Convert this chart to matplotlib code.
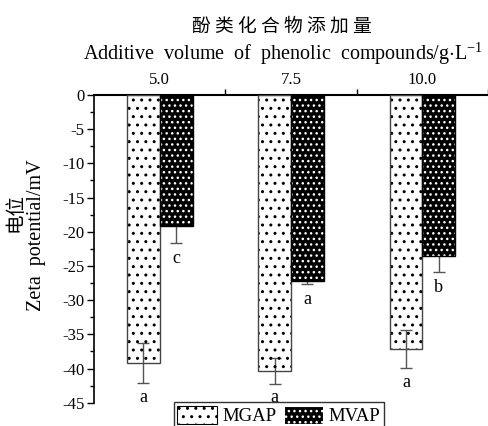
import matplotlib
matplotlib.use("Agg")
import matplotlib.pyplot as plt
import numpy as np
from matplotlib.patches import Patch

categories = ["5.0", "7.5", "10.0"]
mgap = [-39.2, -40.3, -37.1]
mgap_err = [2.9, 1.9, 2.8]
mvap = [-19.1, -27.2, -23.5]
mvap_err = [2.5, 0.4, 2.4]
mgap_letters = ["a", "a", "a"]
mvap_letters = ["c", "a", "b"]

plt.rcParams['font.family'] = ['Liberation Serif', 'Noto Sans CJK SC']
plt.rcParams['hatch.linewidth'] = 1.0
plt.rcParams['axes.unicode_minus'] = False
plt.rcParams['mathtext.fontset'] = 'custom'
plt.rcParams['mathtext.rm'] = 'Liberation Serif'

W, H = 488, 426
fig = plt.figure(figsize=(W/100, H/100), dpi=100)
ax = fig.add_axes([94/W, 1-402.7/H, (488-94)/W, (402.7-95)/H])

x = np.arange(len(categories))
bw = 0.25

# error bars (behind)
ax.errorbar(x - bw/2, mgap, yerr=mgap_err, fmt='none', ecolor='#555555',
            elinewidth=1, capsize=4, capthick=1, zorder=1)
ax.errorbar(x + bw/2, mvap, yerr=mvap_err, fmt='none', ecolor='#555555',
            elinewidth=1, capsize=4, capthick=1, zorder=1)

# MGAP: white with black dots
ax.bar(x - bw/2, mgap, bw, facecolor='none', edgecolor='black', hatch='..',
       linewidth=0, zorder=2)
ax.bar(x - bw/2, mgap, bw, facecolor='none', edgecolor='#444444',
       linewidth=1.0, zorder=3)
# MVAP: black with white dots
ax.bar(x + bw/2, mvap, bw, facecolor='black', edgecolor='white', hatch='...',
       linewidth=0, zorder=2)
ax.bar(x + bw/2, mvap, bw, facecolor='none', edgecolor='black',
       linewidth=1.0, zorder=3)

for xi, v, e, t in zip(x - bw/2, mgap, mgap_err, mgap_letters):
    ax.text(xi, v - e - 2.1, t, ha='center', va='center', fontsize=13)
for xi, v, e, t in zip(x + bw/2, mvap, mvap_err, mvap_letters):
    ax.text(xi, v - e - 2.3, t, ha='center', va='center', fontsize=13)

ax.set_xlim(-0.5, 2.5)
ax.set_ylim(-45, 0)
ax.set_yticks(np.arange(-45, 1, 5))
ax.set_yticks(np.arange(-45, 0, 2.5), minor=True)
ax.tick_params(axis='y', which='major', direction='out', length=5, width=1,
               labelsize=12, pad=2)
ax.tick_params(axis='y', which='minor', direction='out', length=3, width=1)

ax.xaxis.tick_top()
ax.set_xticks(x)
ax.set_xticklabels(categories)
ax.set_xticks([0.5, 1.5, 2.5], minor=True)
ax.tick_params(axis='x', which='major', length=0, labelsize=12, pad=5)
ax.tick_params(axis='x', which='minor', direction='out', length=4, width=1)

for s in ['right', 'bottom']:
    ax.spines[s].set_visible(False)
ax.spines['top'].set_linewidth(1.5)
ax.spines['left'].set_linewidth(1.2)

fig.text(282/W, 1-26/H, "酚 类 化 合 物 添 加 量", ha='center', va='center',
         fontsize=13.5, family=['Noto Sans CJK SC'])
fig.text(283/W, 1-54/H, r"Additive  volume  of  phenolic  compounds/g$\cdot$L$^{\mathregular{-1}}$",
         ha='center', va='center', fontsize=14.5)
fig.text(15/W, 1-212/H, "电位", ha='center', va='center', rotation=90,
         fontsize=14, family=['Noto Sans CJK SC'])
fig.text(37/W, 1-235/H, "Zeta  potential/mV", ha='center', va='center',
         rotation=90, fontsize=14.5)

handles = [Patch(facecolor='white', edgecolor='black', hatch='..', linewidth=0.8),
           Patch(facecolor='black', edgecolor='white', hatch='...', linewidth=0.8)]
leg = fig.legend(handles, ["MGAP", "MVAP"], ncol=2, loc='upper center',
                 bbox_to_anchor=(279/W, 1-402/H), frameon=True, fancybox=False,
                 edgecolor='black', fontsize=13.5, handlelength=2.1, handleheight=1.1,
                 columnspacing=0.4, handletextpad=0.3, borderpad=0.2,
                 borderaxespad=0)
leg.get_frame().set_linewidth(1.0)

fig.savefig("out.png", dpi=100)
